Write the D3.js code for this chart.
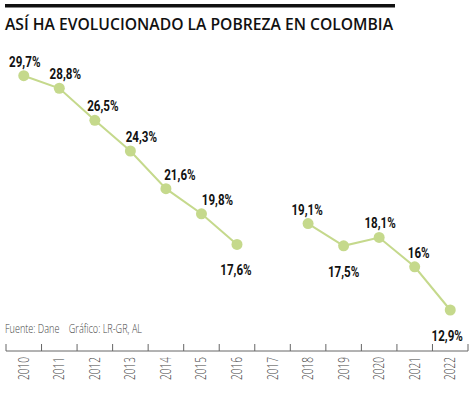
<html>
<head>
  <meta charset="utf-8">
  <title>Pobreza en Colombia</title>
  <script src="https://cdn.jsdelivr.net/npm/d3@7"></script>
  <style>
    body { margin: 0; background: #fff; }
    svg { display: block; }
  </style>
</head>
<body>
  <script>
    // Tamaño
    const w = 474;
    const h = 395;

    // Datos
    const years = ["2010", "2011", "2012", "2013", "2014", "2015", "2016",
      "2017", "2018", "2019", "2020", "2021", "2022"];
    const pobreza = [29.7, 28.8, 26.5, 24.3, 21.6, 19.8, 17.6,
      null, 19.1, 17.5, 18.1, 16.0, 12.9];
    const etiquetas = ["29,7%", "28,8%", "26,5%", "24,3%", "21,6%", "19,8%", "17,6%",
      "", "19,1%", "17,5%", "18,1%", "16%", "12,9%"];

    // Colocación de etiquetas (a mano, como en el original)
    const etiquetaAbajo = [false, false, false, false, false, false, true,
      false, false, true, false, false, true];
    const etiquetaDx = [1, 6, 8, 11, 14, 16, -1, 0, -1, 0, 1, 4, -3];

    const verde = "#c5d98c";

    // Estrecha un texto para imitar una fuente condensada
    function condensar(sel, factor) {
      sel.each(function () {
        const len = this.getComputedTextLength();
        d3.select(this)
          .attr("textLength", len * factor)
          .attr("lengthAdjust", "spacingAndGlyphs");
      });
    }

    const svg = d3.select("body").append("svg")
      .attr("width", w)
      .attr("height", h);

    // Barra y título
    svg.append("rect")
      .attr("x", 5).attr("y", 4)
      .attr("width", 390).attr("height", 3.5)
      .attr("fill", "#111");

    svg.append("text")
      .attr("x", 5).attr("y", 30)
      .attr("font-family", "'Open Sans', sans-serif")
      .attr("font-weight", 600)
      .attr("font-size", 17)
      .attr("fill", "#111")
      .attr("textLength", 388)
      .attr("lengthAdjust", "spacingAndGlyphs")
      .text("ASÍ HA EVOLUCIONADO LA POBREZA EN COLOMBIA");

    // Escalas
    const xScale = d3.scaleBand()
      .domain(years)
      .range([6, 468]);

    const yScale = d3.scaleLinear()
      .domain([12.9, 29.7])
      .range([310, 75.7]);

    const cx = (d, i) => xScale(years[i]) + xScale.bandwidth() / 2;

    // Eje x
    const xAxis = d3.axisBottom(xScale).tickSize(0).tickFormat("");
    const axisG = svg.append("g")
      .attr("transform", "translate(0,351)")
      .call(xAxis);
    axisG.select(".domain").remove();

    axisG.append("line")
      .attr("x1", 6).attr("x2", 468)
      .attr("stroke", "#666").attr("stroke-width", 1);

    // marcas entre años
    const bordes = years.map(y => xScale(y)).concat([xScale.range()[1]]);
    axisG.selectAll("line.borde")
      .data(bordes)
      .enter()
      .append("line")
      .attr("class", "borde")
      .attr("x1", d => d).attr("x2", d => d)
      .attr("y1", 0).attr("y2", -7)
      .attr("stroke", "#666").attr("stroke-width", 1);

    axisG.selectAll("text.anio")
      .data(years)
      .enter()
      .append("text")
      .attr("class", "anio")
      .attr("transform", d => "translate(" + (xScale(d) + xScale.bandwidth() / 2 + 5) + ",6) rotate(-90)")
      .attr("text-anchor", "end")
      .attr("font-family", "'Open Sans', sans-serif")
      .attr("font-weight", 300)
      .attr("font-size", 14)
      .attr("fill", "#444")
      .attr("textLength", 23)
      .attr("lengthAdjust", "spacingAndGlyphs")
      .text(d => d);

    // Fuente
    svg.append("text")
      .attr("x", 5).attr("y", 333)
      .attr("font-family", "'Open Sans', sans-serif")
      .attr("font-weight", 300)
      .attr("font-size", 12.5)
      .attr("fill", "#444")
      .style("white-space", "pre")
      .attr("textLength", 137)
      .attr("lengthAdjust", "spacingAndGlyphs")
      .text("Fuente: Dane    Gráfico: LR-GR, AL");

    // Línea (con hueco en 2017)
    const line = d3.line()
      .defined(d => d != null)
      .x(cx)
      .y(d => yScale(d));

    svg.append("path")
      .datum(pobreza)
      .attr("d", line)
      .attr("fill", "none")
      .attr("stroke", verde)
      .attr("stroke-width", 2);

    const puntos = pobreza.map((v, i) => ({ v: v, i: i })).filter(d => d.v != null);

    svg.selectAll("circle")
      .data(puntos)
      .enter()
      .append("circle")
      .attr("cx", d => cx(d.v, d.i))
      .attr("cy", d => yScale(d.v))
      .attr("r", 5.5)
      .attr("fill", verde);

    svg.selectAll("text.valor")
      .data(puntos)
      .enter()
      .append("text")
      .attr("class", "valor")
      .attr("x", d => cx(d.v, d.i) + etiquetaDx[d.i])
      .attr("y", d => yScale(d.v) + (etiquetaAbajo[d.i] ? 31 : -9))
      .attr("text-anchor", "middle")
      .attr("font-family", "Roboto, sans-serif")
      .attr("font-weight", "bold")
      .attr("font-size", 14.5)
      .attr("fill", "#111")
      .text(d => etiquetas[d.i])
      .call(condensar, 0.8);
  </script>
</body>
</html>
